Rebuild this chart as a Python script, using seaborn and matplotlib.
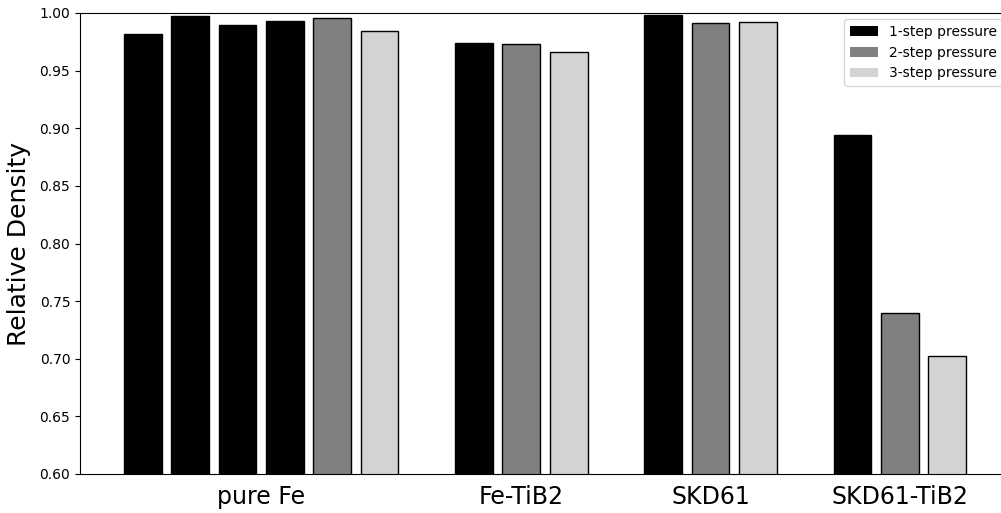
import pandas as pd
import matplotlib
matplotlib.use("Agg")
import matplotlib.pyplot as plt
from matplotlib.patches import Patch
import seaborn as sns

# bar positions on the x axis (gaps between material groups)
positions = [0, 1, 2, 3, 4, 5, 7, 8, 9, 11, 12, 13, 15, 16, 17]
density = [0.982, 0.997, 0.990, 0.993, 0.996, 0.984,
           0.974, 0.973, 0.966,
           0.998, 0.991, 0.992,
           0.894, 0.740, 0.702]
steps = ['1-step pressure'] * 4 + ['2-step pressure', '3-step pressure'] + \
        ['1-step pressure', '2-step pressure', '3-step pressure'] * 3

groups = ['pure Fe', 'Fe-TiB2', 'SKD61', 'SKD61-TiB2']
group_ticks = [2.5, 8, 12, 16]

colors = {'1-step pressure': 'black', '2-step pressure': 'gray', '3-step pressure': 'lightgray'}

df = pd.DataFrame({'pos': positions, 'density': density, 'step': steps})

fig = plt.figure(figsize=(10.01, 5.13), dpi=100)
ax = fig.add_axes([80 / 1001, 39 / 513, 1 - 80 / 1001, 461 / 513])

sns.barplot(data=df, x='pos', y='density', hue='step', palette=colors,
            native_scale=True, dodge=False, width=0.8,
            edgecolor='black', linewidth=1, legend=False, ax=ax)

ax.set_ylim(0.6, 1.0)
ax.set_xlim(-1.33, 18.14)
ax.set_xticks(group_ticks)
ax.set_xticklabels(groups, fontsize=17)
ax.tick_params(axis='x', length=0, pad=8)
ax.tick_params(axis='y', labelsize=10)
ax.set_xlabel('')
ax.set_ylabel('Relative Density', fontsize=18, labelpad=6)
ax.spines['right'].set_visible(False)

handles = [Patch(facecolor=colors[k], label=k) for k in colors]
ax.legend(handles=handles, loc='upper right', fontsize=10,
          bbox_to_anchor=(1.009, 1.002))

fig.savefig('out.png', dpi=100)
